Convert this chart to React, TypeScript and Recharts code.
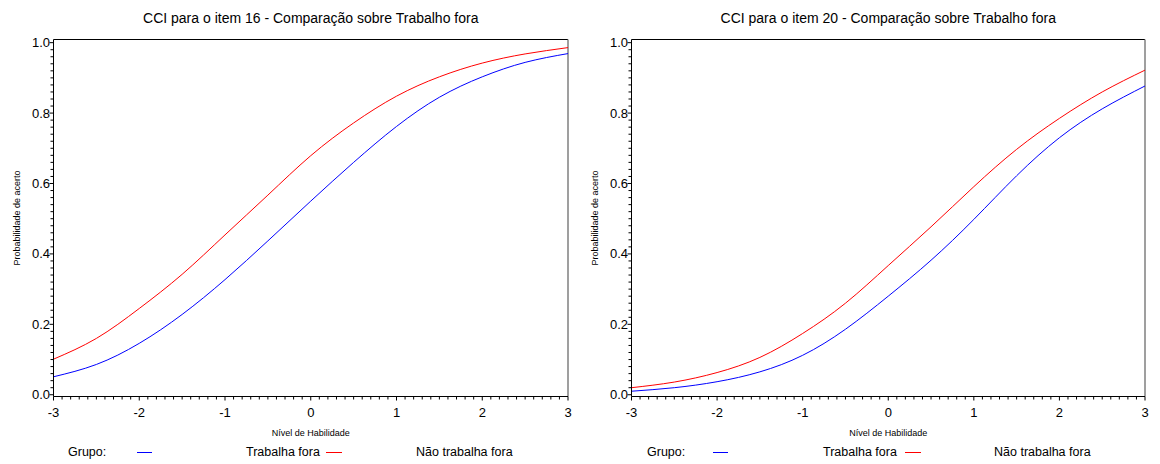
import React from 'react';
import { LineChart, Line, XAxis, YAxis, ReferenceLine } from 'recharts';

const abilityLevels = [-3, -2.5, -2, -1.5, -1, -0.5, 0, 0.5, 1, 1.5, 2, 2.5, 3];

const item16Trabalha = [0.051, 0.086, 0.146, 0.228, 0.327, 0.437, 0.550, 0.660, 0.762, 0.845, 0.903, 0.944, 0.969];
const item16NaoTrabalha = [0.101, 0.160, 0.245, 0.342, 0.454, 0.567, 0.679, 0.772, 0.848, 0.903, 0.942, 0.968, 0.986];

const item20Trabalha = [0.010, 0.020, 0.037, 0.065, 0.112, 0.186, 0.280, 0.382, 0.498, 0.622, 0.730, 0.812, 0.877];
const item20NaoTrabalha = [0.020, 0.036, 0.063, 0.106, 0.174, 0.260, 0.367, 0.477, 0.591, 0.697, 0.785, 0.860, 0.922];

const xMajorTicks = [-3, -2, -1, 0, 1, 2, 3];
const yMajorTicks = [0, 0.2, 0.4, 0.6, 0.8, 1.0];
const xDomain = [-3, 3];
const yDomain = [-0.005, 1.009];

const titles = [
  'CCI para o item 16 - Comparação sobre Trabalho fora',
  'CCI para o item 20 - Comparação sobre Trabalho fora',
];
const legendTitle = 'Grupo:';
const groupNames = ['Trabalha fora', 'Não trabalha fora'];
const xLabel = 'Nível de Habilidade';
const yLabel = 'Probabilidade de acerto';

const FONT = '"Liberation Sans", Arial, sans-serif';
const BLUE = '#0000ff';
const RED = '#ff0000';

const xAllTicks: number[] = [];
for (let i = -30; i <= 30; i++) xAllTicks.push(i / 10);
const yAllTicks: number[] = [];
for (let i = 0; i <= 50; i++) yAllTicks.push(i / 50);

function buildData(a: number[], b: number[]) {
  return abilityLevels.map((x, i) => ({ x, trabalha: a[i], naoTrabalha: b[i] }));
}

const isMajorX = (v: number) => xMajorTicks.some((t) => Math.abs(t - v) < 1e-6);
const isMajorY = (v: number) => yMajorTicks.some((t) => Math.abs(t - v) < 1e-6);

const XTick = (props: any) => {
  const { x, y, payload } = props;
  const v = payload.value as number;
  const major = isMajorX(v);
  return (
    <g>
      <line x1={x} y1={y} x2={x} y2={y + (major ? 4 : 3)} stroke="#000" strokeWidth={1} />
      {major && (
        <text x={x} y={y + 16} textAnchor="middle" dominantBaseline="central" fontSize={13} fontFamily={FONT} fill="#000">
          {String(Math.round(v))}
        </text>
      )}
    </g>
  );
};

const YTick = (props: any) => {
  const { x, y, payload } = props;
  const v = payload.value as number;
  const major = isMajorY(v);
  return (
    <g>
      <line x1={x} y1={y} x2={x - (major ? 4 : 3)} y2={y} stroke="#000" strokeWidth={1} />
      {major && (
        <text x={x - 3.5} y={y} textAnchor="end" dominantBaseline="central" fontSize={13} fontFamily={FONT} fill="#000">
          {v.toFixed(1)}
        </text>
      )}
    </g>
  );
};

type PanelProps = {
  title: string;
  a: number[];
  b: number[];
  left: number;
  right: number;
  legendX: number[];
};

const W = 580;
const H = 464;
const TOP = 39.5;
const BOTTOM_Y = 396.5;
const XAXIS_H = 30;
const YAXIS_W = 40;

function Panel({ title, a, b, left, right, legendX }: PanelProps) {
  const data = buildData(a, b);
  const plotLeft = left;
  const plotRight = W - right;
  const cx = (plotLeft + plotRight) / 2;
  const cy = (TOP + BOTTOM_Y) / 2;

  const textStyle: React.CSSProperties = {
    position: 'absolute',
    top: 443,
    whiteSpace: 'nowrap',
    fontFamily: FONT,
    fontSize: 12.5,
    color: '#000',
    lineHeight: '18px',
  };

  return (
    <div style={{ position: 'relative', width: W, height: H }}>
      <div
        style={{
          position: 'absolute',
          left: cx - 250,
          width: 500,
          top: 9,
          textAlign: 'center',
          fontFamily: FONT,
          fontSize: 14,
          lineHeight: '18px',
          color: '#000',
          whiteSpace: 'nowrap',
        }}
      >
        {title}
      </div>
      <LineChart
        width={W}
        height={H}
        data={data}
        margin={{ top: TOP, right: right, left: left - YAXIS_W, bottom: H - BOTTOM_Y - XAXIS_H }}
      >
        <XAxis
          dataKey="x"
          type="number"
          domain={xDomain}
          ticks={xAllTicks}
          interval={0}
          allowDataOverflow
          height={XAXIS_H}
          tickSize={0}
          tickMargin={0}
          tickLine={false}
          axisLine={{ stroke: '#000', strokeWidth: 1 }}
          tick={<XTick />}
          label={() => (
            <text x={cx} y={433} textAnchor="middle" dominantBaseline="central" fontSize={9} fontFamily={FONT} fill="#000">
              {xLabel}
            </text>
          )}
        />
        <YAxis
          type="number"
          domain={yDomain}
          ticks={yAllTicks}
          interval={0}
          allowDataOverflow
          width={YAXIS_W}
          tickSize={0}
          tickMargin={0}
          tickLine={false}
          axisLine={{ stroke: '#000', strokeWidth: 1 }}
          tick={<YTick />}
          label={() => (
            <text
              x={left - 37}
              y={cy}
              transform={`rotate(-90 ${left - 37} ${cy})`}
              textAnchor="middle"
              dominantBaseline="central"
              fontSize={9}
              fontFamily={FONT}
              fill="#000"
            >
              {yLabel}
            </text>
          )}
        />
        <ReferenceLine y={yDomain[1]} stroke="#000" strokeWidth={1} />
        <ReferenceLine x={xDomain[1]} stroke="#7f7f7f" strokeWidth={1.5} />
        <Line
          type="natural"
          dataKey="trabalha"
          name={groupNames[0]}
          stroke={BLUE}
          strokeWidth={1}
          dot={false}
          activeDot={false}
          isAnimationActive={false}
        />
        <Line
          type="natural"
          dataKey="naoTrabalha"
          name={groupNames[1]}
          stroke={RED}
          strokeWidth={1}
          dot={false}
          activeDot={false}
          isAnimationActive={false}
        />
      </LineChart>
      <span style={{ ...textStyle, left: legendX[0] }}>{legendTitle}</span>
      <span style={{ position: 'absolute', left: legendX[1], top: 452, width: 15, height: 1, background: BLUE }} />
      <span style={{ ...textStyle, left: legendX[2] }}>{groupNames[0]}</span>
      <span style={{ position: 'absolute', left: legendX[3], top: 452, width: 16, height: 1, background: RED }} />
      <span style={{ ...textStyle, left: legendX[4] }}>{groupNames[1]}</span>
    </div>
  );
}

export default function App() {
  return (
    <div style={{ position: 'absolute', left: 0, top: 0, width: 1160, height: 464, background: '#fff', display: 'flex' }}>
      <Panel title={titles[0]} a={item16Trabalha} b={item16NaoTrabalha} left={53.5} right={12} legendX={[68, 137, 246, 326, 416]} />
      <Panel title={titles[1]} a={item20Trabalha} b={item20NaoTrabalha} left={51.5} right={15} legendX={[67, 133, 243, 325, 414]} />
    </div>
  );
}
